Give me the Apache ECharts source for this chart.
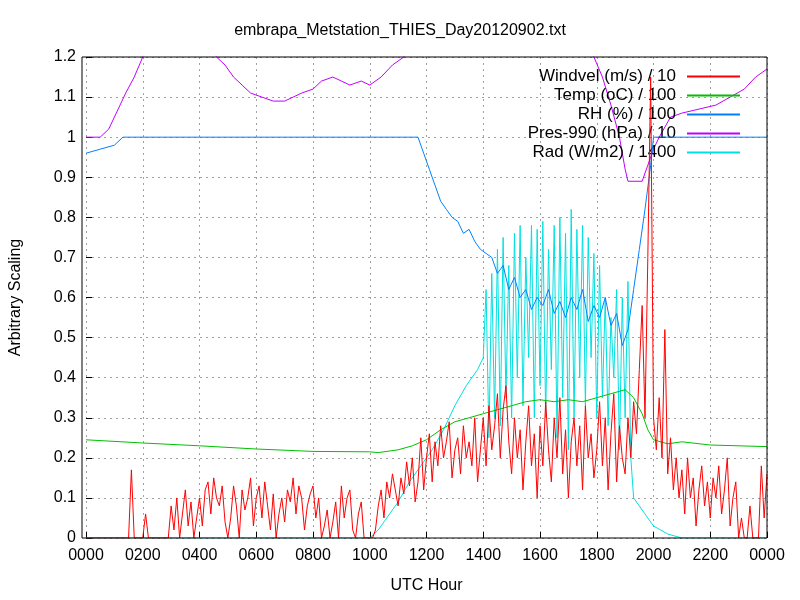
<!DOCTYPE html>
<html><head><meta charset="utf-8">
<script src="https://cdn.jsdelivr.net/npm/echarts@6/dist/echarts.min.js"></script>
<style>html,body{margin:0;padding:0;background:#fff}#c{width:800px;height:600px}</style>
</head><body><div id="c"></div>
<script>
const titleText = 'embrapa_Metstation_THIES_Day20120902.txt';
const seriesNames = ['Windvel (m/s) / 10','Temp (oC) / 100','RH (%) / 100','Pres-990 (hPa) / 10','Rad (W/m2) / 1400'];
const xTicks = ['0000','0200','0400','0600','0800','1000','1200','1400','1600','1800','2000','2200','0000'];
// windvel sampled every 0.1 h from 0 to 24
const windStep = 0.1;
const windvel = [
0,0,0,0,0,0,0,0,0,0,
0,0,0,0,0,0,0.17,0,0,0,
0,0.06,0,0,0,0,0,0,0,0,
0.08,0.02,0.1,0.0,0.06,0.12,0.03,0.09,0,0.05,
0.1,0.03,0.12,0.14,0.06,0.15,0.1,0.08,0.13,0.04,
0.0,0.05,0.13,0.08,0.0,0.12,0.07,0.1,0.15,0.03,
0.1,0.13,0.05,0.14,0.08,0.02,0.11,0.0,0.06,0.1,
0.04,0.12,0.09,0.15,0.06,0.13,0.1,0.02,0.08,0.11,
0.13,0.05,0.1,0.0,0.03,0.07,0.0,0.04,0.09,0.0,
0.13,0.05,0.1,0.12,0.02,0.0,0.06,0.09,0.0,0.0,
0,0,0.02,0.08,0.12,0.05,0.14,0.1,0.16,0.12,
0.08,0.15,0.11,0.19,0.13,0.2,0.09,0.14,0.25,0.12,
0.2,0.26,0.14,0.24,0.18,0.28,0.2,0.24,0.29,0.15,
0.22,0.25,0.16,0.28,0.2,0.24,0.18,0.3,0.14,0.22,
0.3,0.18,0.33,0.22,0.28,0.36,0.2,0.32,0.38,0.24,
0.16,0.3,0.2,0.27,0.12,0.24,0.33,0.18,0.26,0.1,
0.28,0.18,0.34,0.22,0.14,0.3,0.2,0.35,0.16,0.27,
0.1,0.24,0.3,0.18,0.28,0.12,0.33,0.2,0.26,0.15,
0.22,0.34,0.18,0.3,0.12,0.26,0.36,0.14,0.28,0.2,
0.16,0.3,0.2,0.34,0.26,0.42,0.58,0.3,0.7,1.15,
0.3,0.22,0.35,0.2,0.52,0.16,0.25,0.12,0.2,0.1,
0.17,0.06,0.2,0.1,0.15,0.03,0.12,0.18,0.08,0.14,
0.05,0.15,0.1,0.18,0.06,0.12,0.2,0.03,0.1,0.14,
0.0,0.05,0.0,0.0,0.08,0.0,0.0,0.0,0.18,0.05,0.16];
const tempX = [0,2,4,6,8,10,10.3,11,11.5,12,12.5,13,13.5,14,14.5,15,15.5,16,16.5,17,17.5,18,18.5,19,19.3,19.6,19.8,20,20.5,21,22,24];
const tempY = [0.245,0.237,0.23,0.222,0.216,0.215,0.213,0.22,0.23,0.245,0.27,0.29,0.3,0.31,0.32,0.33,0.34,0.345,0.34,0.345,0.34,0.35,0.36,0.37,0.35,0.31,0.27,0.245,0.235,0.24,0.232,0.228];
const rhX = [0,0.5,1,1.3,11.7,11.9,12.1,12.3,12.5,12.7,12.9,13.1,13.3,13.5,13.7,13.9,14.1,14.3,14.5,14.7,14.9,15.1,15.3,15.5,15.7,15.9,16.1,16.3,16.5,16.7,16.9,17.1,17.3,17.5,17.7,17.9,18.1,18.3,18.5,18.7,18.9,19.1,19.3,19.5,19.7,19.9,20.0,24];
const rhY = [0.96,0.97,0.98,1.0,1.0,0.96,0.92,0.88,0.84,0.82,0.8,0.79,0.76,0.77,0.74,0.72,0.71,0.7,0.66,0.68,0.62,0.65,0.6,0.62,0.57,0.6,0.58,0.62,0.56,0.59,0.55,0.6,0.57,0.62,0.54,0.58,0.55,0.6,0.53,0.56,0.48,0.52,0.62,0.72,0.82,0.93,1.0,1.0];
const presX = [0,0.5,0.8,1.0,1.2,1.4,1.7,2.0,2.3,4.3,4.6,4.9,5.2,5.5,5.8,6.2,6.6,7.0,7.3,7.6,8.0,8.3,8.7,9.0,9.3,9.7,10.0,10.4,10.8,11.2,11.5,17.6,17.9,18.2,18.5,18.8,19.0,19.1,19.6,19.8,20.0,20.2,20.6,21.0,21.6,22.2,22.7,23.2,23.6,24];
const presY = [1.0,1.0,1.02,1.05,1.08,1.11,1.15,1.2,1.25,1.25,1.2,1.18,1.15,1.13,1.11,1.1,1.09,1.09,1.1,1.11,1.12,1.14,1.15,1.14,1.13,1.14,1.13,1.15,1.18,1.2,1.25,1.25,1.2,1.15,1.08,1.0,0.92,0.89,0.89,0.93,0.97,1.0,1.05,1.06,1.07,1.08,1.1,1.12,1.15,1.17];
const radX = [0,10.0,10.3,10.6,11,11.4,11.8,12.2,12.6,13,13.4,13.8,
14.0,14.1,14.2,14.3,14.4,14.5,14.6,14.7,14.8,14.9,
15.0,15.1,15.2,15.3,15.4,15.5,15.6,15.7,15.8,15.9,
16.0,16.1,16.2,16.3,16.4,16.5,16.6,16.7,16.8,16.9,
17.0,17.1,17.2,17.3,17.4,17.5,17.6,17.7,17.8,17.9,
18.0,18.1,18.2,18.3,18.4,18.5,18.6,18.7,18.8,18.9,
19.0,19.1,19.2,19.3,19.5,19.8,20,20.5,21,24];
const radY = [0,0,0.02,0.05,0.09,0.14,0.18,0.22,0.27,0.33,0.38,0.42,
0.45,0.62,0.25,0.66,0.3,0.72,0.28,0.75,0.35,0.68,
0.3,0.76,0.4,0.78,0.33,0.7,0.45,0.78,0.3,0.77,
0.38,0.79,0.3,0.72,0.42,0.78,0.25,0.8,0.35,0.76,
0.22,0.82,0.3,0.77,0.4,0.78,0.33,0.75,0.45,0.71,
0.3,0.68,0.35,0.6,0.28,0.55,0.4,0.62,0.22,0.6,
0.3,0.64,0.2,0.1,0.08,0.05,0.03,0.01,0,0];
const colors = ['#ff0000','#00c000','#0080ff','#c000ff','#00e0e0'];

const zip = (xs, ys) => xs.map((x, i) => [x, ys[i]]);
const windData = windvel.map((v, i) => [+(i * windStep).toFixed(2), v]);
const datasets = [windData, zip(tempX, tempY), zip(rhX, rhY), zip(presX, presY), zip(radX, radY)];
const font = 'Liberation Sans, Arial, sans-serif';
const chart = echarts.init(document.getElementById('c'));
chart.setOption({
  animation: false,
  color: colors,
  title: {text: titleText, left: 'center', top: 18, textStyle: {fontFamily: font, fontSize: 16, fontWeight: 'normal', color: '#000'}},
  legend: {
    orient: 'vertical', right: 55, top: 63, align: 'right', itemGap: 2,
    itemWidth: 53, itemHeight: 2, icon: 'rect',
    textStyle: {fontFamily: font, fontSize: 17, color: '#000', padding: [0, 6, 0, 0]},
    data: seriesNames.map((n, i) => ({name: n, itemStyle: {color: colors[i], borderWidth: 0}, lineStyle: {color: colors[i], width: 0}}))
  },
  grid: {left: 82, right: 33, top: 57, bottom: 62, containLabel: false},
  xAxis: {
    type: 'value', min: 0, max: 24, interval: 2,
    name: 'UTC Hour', nameLocation: 'middle', nameGap: 40,
    nameTextStyle: {fontFamily: font, fontSize: 16, color: '#000'},
    axisLine: {show: false},
    axisTick: {inside: true, length: 6, lineStyle: {color: '#000'}},
    axisLabel: {fontFamily: font, fontSize: 16, color: '#000', margin: 10, formatter: v => xTicks[Math.round(v / 2)]},
    splitLine: {lineStyle: {color: '#a0a0a0', type: [2, 4]}}
  },
  yAxis: {
    type: 'value', min: 0, max: 1.2, interval: 0.1,
    name: 'Arbitrary Scaling', nameLocation: 'middle', nameGap: 62,
    nameTextStyle: {fontFamily: font, fontSize: 16, color: '#000'},
    axisLine: {show: false},
    axisTick: {inside: true, length: 6, lineStyle: {color: '#000'}},
    axisLabel: {fontFamily: font, fontSize: 16, color: '#000', margin: 10, formatter: v => String(+v.toFixed(1))},
    splitLine: {lineStyle: {color: '#a0a0a0', type: [2, 4]}}
  },
  graphic: [{type: 'rect', shape: {x: 82, y: 57, width: 685, height: 481}, style: {fill: 'none', stroke: '#000', lineWidth: 1}, z: 100}],
  series: seriesNames.map((n, i) => ({
    name: n, type: 'line', data: datasets[i], showSymbol: false, clip: true,
    itemStyle: {color: colors[i]},
    lineStyle: {width: 1, color: colors[i]}, z: [5, 3, 4, 2, 1][i]
  }))
});
</script></body></html>
